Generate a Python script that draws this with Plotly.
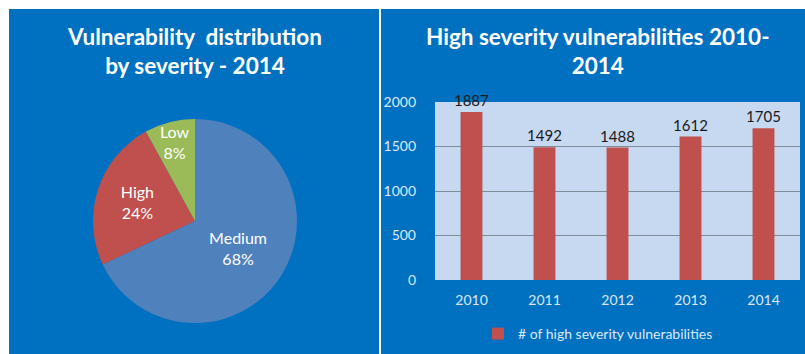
import plotly.graph_objects as go

# Data
severity_labels = ["Medium", "High", "Low"]
severity_values = [68, 24, 8]
years = ["2010", "2011", "2012", "2013", "2014"]
high_counts = [1887, 1492, 1488, 1612, 1705]

W, H = 805, 354
BLUE = "#0070C0"
FONT = "Lato"
TICK = "#DCE8F6"

fig = go.Figure()

fig.add_trace(go.Pie(
    labels=severity_labels,
    values=severity_values,
    sort=False,
    direction="clockwise",
    rotation=0,
    marker=dict(colors=["#4F81BD", "#C0504D", "#9BBB59"], line=dict(width=0)),
    textinfo="label+percent",
    textposition="inside",
    insidetextorientation="horizontal",
    textfont=dict(color="white", size=16, family=FONT),
    domain=dict(x=[93 / W, 297 / W], y=[31 / H, 235 / H]),
    showlegend=False,
    hoverinfo="label+percent",
))

fig.add_trace(go.Bar(
    x=years,
    y=high_counts,
    name="# of high severity vulnerabilities",
    marker=dict(color="#C0504D", line=dict(width=0)),
    width=0.3,
    text=[str(v) for v in high_counts],
    textposition="outside",
    constraintext="none",
    cliponaxis=False,
    textfont=dict(color="#1a1a1a", size=14, family=FONT),
    xaxis="x", yaxis="y",
    showlegend=True,
))

shapes = [
    dict(type="rect", xref="paper", yref="paper", x0=9 / W, x1=379 / W, y0=0, y1=(H - 9) / H,
         fillcolor=BLUE, line=dict(width=0), layer="below"),
    dict(type="rect", xref="paper", yref="paper", x0=381 / W, x1=1, y0=0, y1=(H - 9) / H,
         fillcolor=BLUE, line=dict(width=0), layer="below"),
    dict(type="rect", xref="x domain", yref="y domain", x0=0, x1=1, y0=0, y1=1,
         fillcolor="#C6D9F1", line=dict(width=0), layer="below"),
]

annotations = [
    dict(text="<b>Vulnerability  distribution<br>by severity - 2014</b>", x=194 / W, y=(H - 21) / H,
         xref="paper", yref="paper", xanchor="center", yanchor="top", showarrow=False,
         font=dict(color="white", size=22.5, family=FONT), align="center"),
    dict(text="<b>High severity vulnerabilities 2010-<br>2014</b>", x=598 / W, y=(H - 21) / H,
         xref="paper", yref="paper", xanchor="center", yanchor="top", showarrow=False,
         font=dict(color="white", size=22.5, family=FONT), align="center"),
]

fig.update_layout(
    width=W, height=H,
    autosize=False,
    margin=dict(l=0, r=0, t=0, b=0, pad=0, autoexpand=False),
    paper_bgcolor="white",
    plot_bgcolor="#C6D9F1",
    shapes=shapes,
    annotations=annotations,
    font=dict(family=FONT, color=TICK, size=13),
    uniformtext=dict(minsize=15, mode="show"),
    xaxis=dict(domain=[435 / W, 800 / W], anchor="y", showgrid=False, ticks="",
               tickfont=dict(color=TICK, size=14, family=FONT), showline=False,
               ticklabelstandoff=10, fixedrange=True, automargin=False),
    yaxis=dict(domain=[74 / H, 252 / H], anchor="x", range=[0, 2000],
               tickvals=[0, 500, 1000, 1500, 2000], showgrid=True, gridcolor="#7F8C99",
               gridwidth=1, zeroline=False, ticks="", ticklabelstandoff=18, automargin=False,
               tickfont=dict(color=TICK, size=14, family=FONT)),
    legend=dict(orientation="h", x=478 / W, xanchor="left", y=(H - 334) / H, yanchor="middle",
                font=dict(color=TICK, size=14, family=FONT), bgcolor="rgba(0,0,0,0)",
                itemwidth=30),
    showlegend=True,
)

post = (
    "var h=document.documentElement, b=document.body;"
    "h.style.margin='0';h.style.padding='0';h.style.overflow='hidden';"
    "b.style.margin='0';b.style.padding='0';b.style.overflow='hidden';"
)
fig.write_html("out.html", config={"displayModeBar": False}, post_script=post)
